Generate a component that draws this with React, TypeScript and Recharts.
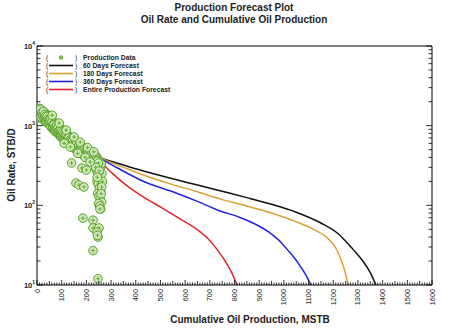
import React from 'react';
import { ComposedChart, Line, Scatter, XAxis, YAxis, Legend } from 'recharts';

// production history (cumulative MSTB, rate STB/D)
const prodCum = [
  0, 3, 5, 8, 10, 12, 15, 17, 20, 22,
  25, 27, 30, 32, 35, 37, 40, 42, 45, 47,
  50, 52, 55, 57, 60, 62, 65, 67, 70, 72,
  75, 77, 80, 82, 85, 87, 90, 92, 95, 97,
  100, 102, 105, 107, 110, 112, 115, 117, 120, 122,
  125, 127, 130, 132, 135, 137, 140, 142, 145, 147,
  150, 152, 155, 157, 160, 162, 165, 167, 170, 172,
  175, 177, 180, 182, 185, 187, 190, 192, 195, 197,
  200, 202, 205, 207, 210, 212, 215, 217, 220, 222,
  225, 227, 230, 232, 235, 237, 240, 242, 245, 247,
  250, 252, 255, 257, 260,
  1, 4, 6, 9, 11, 14, 16, 19, 21, 24,
  26, 29, 31, 34, 36, 39, 41, 44, 46, 49,
  51, 54, 56, 59, 61, 64, 66, 69, 71, 74,
  76, 79, 81, 84, 86, 89, 91, 94, 96, 99,
  101, 104, 106, 109, 111, 114, 116, 119, 121, 124,
  126, 129, 131, 134, 136, 139, 141, 144, 146, 149,
  151, 154, 156, 159, 161, 164, 166, 169, 171, 174,
  176, 179, 181, 184, 186, 189, 191, 194, 196, 199,
  201, 204, 206, 209, 211, 214, 216, 219, 221, 224,
  226, 229, 231, 234, 236, 239, 241, 244, 246, 249,
  240, 245, 250, 255, 243, 248, 253, 258, 246, 251,
  256, 262, 249, 254, 258, 263, 265, 262, 238, 252,
  244, 260,
  140, 182, 200, 158, 170, 190, 186, 227, 227, 251,
  243, 247, 245, 227, 247, 255,
  62, 90, 118, 150, 175, 205, 230, 110, 135, 165,
  195, 215,
];
const prodRate = [
  1480, 1300, 1620, 1420, 1650, 1250, 1500, 1360, 1560, 1230,
  1420, 1180, 1480, 1300, 1120, 1400, 1250, 1080, 1330, 1160,
  1040, 1280, 1110, 960, 1180, 1030, 900, 1110, 980, 850,
  1070, 920, 830, 1040, 900, 780, 960, 830, 730, 910,
  800, 700, 880, 760, 670, 830, 720, 640, 790, 690,
  610, 750, 660, 580, 720, 630, 560, 690, 600, 530,
  650, 580, 510, 620, 560, 490, 600, 530, 470, 570,
  510, 450, 550, 490, 430, 530, 480, 420, 510, 460,
  410, 500, 450, 400, 490, 430, 380, 470, 420, 370,
  450, 400, 360, 430, 380, 340, 410, 360, 390, 340,
  370, 320, 350, 300, 330,
  1560, 1400, 1330, 1520, 1380, 1600, 1280, 1450, 1350, 1300,
  1500, 1250, 1380, 1220, 1320, 1150, 1300, 1200, 1090, 1190,
  1120, 1010, 1200, 1060, 1120, 980, 1040, 1020, 920, 960,
  880, 1000, 900, 840, 960, 860, 800, 880, 790, 850,
  760, 820, 720, 780, 700, 760, 690, 740, 650, 700,
  640, 700, 620, 660, 600, 650, 590, 640, 570, 610,
  540, 590, 560, 530, 590, 540, 500, 550, 500, 480,
  540, 470, 520, 460, 500, 450, 500, 440, 480, 440,
  470, 420, 470, 410, 460, 420, 400, 440, 400, 390,
  420, 380, 400, 350, 400, 370, 330, 360, 310, 340,
  280, 250, 230, 210, 200, 185, 165, 150, 140, 130,
  120, 110, 105, 98, 90, 250, 200, 170, 300, 270,
  225, 140,
  340, 294, 277, 190, 180, 170, 69, 65, 52, 52,
  46, 40, 42, 27, 12, 90,
  1350, 1080, 880, 720, 620, 530, 470, 600, 540, 450,
  400, 350,
];

// forecasts
const fc60Cum = [255, 350, 450, 550, 650, 750, 850, 950, 1050, 1150, 1220, 1280, 1320, 1350, 1373];
const fc60Rate = [392, 320, 260, 215, 180, 150, 125, 103, 82, 60, 44, 28, 20, 14.3, 10];
const fc180Cum = [255, 350, 450, 550, 650, 750, 850, 950, 1050, 1120, 1180, 1215, 1240, 1250, 1260];
const fc180Rate = [392, 300, 228, 182, 148, 118, 98, 80, 62, 50, 38, 27.5, 17.5, 13.8, 10];
const fc360Cum = [255, 330, 437, 550, 650, 741, 820, 875, 944, 990, 1013, 1040, 1065, 1090, 1109];
const fc360Rate = [392, 290, 196, 148, 112, 85, 71, 60, 45, 34, 28, 22.5, 17.5, 13.2, 10];
const fcAllCum = [255, 304, 369, 437, 506, 571, 640, 693, 733, 762, 790, 810];
const fcAllRate = [360, 254, 172, 124, 93, 70, 52, 38, 27, 20, 14, 10];

const legendNames = [
  'Production Data',
  '60 Days Forecast',
  '180 Days Forecast',
  '360 Days Forecast',
  'Entire Production Forecast',
];
const legendColors = ['#7ab648', '#111111', '#d9a032', '#2323d8', '#e3262a'];

const xTicks = Array.from({ length: 161 }, (_, i) => i * 10);
const yTicks = [
  10, 20, 30, 40, 50, 60, 70, 80, 90,
  100, 200, 300, 400, 500, 600, 700, 800, 900,
  1000, 2000, 3000, 4000, 5000, 6000, 7000, 8000, 9000, 10000,
];

const toRows = (cum: number[], rate: number[]) => cum.map((c, i) => ({ cum: c, rate: rate[i] }));
const prodData = toRows(prodCum, prodRate);

const FONT = '"Liberation Sans", Arial, sans-serif';

const xLen = (v: number) => (v % 100 === 0 ? 5 : v % 50 === 0 ? 4 : 2.5);
const isDecade = (v: number) => Math.abs(Math.log10(v) - Math.round(Math.log10(v))) < 1e-6;

const BottomTick = (props: any) => {
  const { x, y, payload } = props;
  const v = payload.value;
  const ly = y + 4;
  return (
    <g>
      <line x1={x} x2={x} y1={y} y2={y - xLen(v)} stroke="#000" strokeWidth={0.8} />
      {v % 100 === 0 && (
        <text
          x={x}
          y={ly}
          transform={`rotate(-90 ${x} ${ly})`}
          textAnchor="end"
          dominantBaseline="central"
          fontSize={7.3}
          fill="#222"
        >
          {v}
        </text>
      )}
    </g>
  );
};

const TopTick = (props: any) => {
  const { x, y, payload } = props;
  return <line x1={x} x2={x} y1={y} y2={y + xLen(payload.value)} stroke="#000" strokeWidth={0.8} />;
};

const LeftTick = (props: any) => {
  const { x, y, payload } = props;
  const v = payload.value;
  const major = isDecade(v);
  return (
    <g>
      <line x1={x} x2={x + (major ? 6 : 3.5)} y1={y} y2={y} stroke="#000" strokeWidth={0.8} />
      {major && (
        <text x={x - 2} y={y + 3} textAnchor="end" fontSize={7.5} fill="#222" fontWeight="bold">
          <tspan>10</tspan>
          <tspan dy={-4} fontSize={5}>{Math.round(Math.log10(v))}</tspan>
        </text>
      )}
    </g>
  );
};

const RightTick = (props: any) => {
  const { x, y, payload } = props;
  const len = isDecade(payload.value) ? 6 : 3.5;
  return <line x1={x} x2={x - len} y1={y} y2={y} stroke="#000" strokeWidth={0.8} />;
};

const ProdMarker = (props: any) => {
  const { cx, cy } = props;
  if (cx == null || cy == null) return null;
  return (
    <g>
      <circle cx={cx} cy={cy} r={4.3} fill="#cfe8b8" stroke="#55a125" strokeWidth={1} />
      <path d={`M${cx - 2},${cy}H${cx + 2}M${cx},${cy - 2}V${cy + 2}`} stroke="#55a125" strokeWidth={0.8} />
    </g>
  );
};

const LegendBox = () => (
  <svg width={150} height={44} style={{ fontFamily: FONT }}>
    {legendNames.map((name, i) => {
      const y = 4.5 + i * 8;
      return (
        <g key={name}>
          <text x={6} y={y + 2.3} fontSize={6.5} fill="#222">(</text>
          {i === 0 ? (
            <circle cx={21} cy={y} r={2.2} fill={legendColors[0]} />
          ) : (
            <line x1={9} x2={33} y1={y} y2={y} stroke={legendColors[i]} strokeWidth={1.6} />
          )}
          <text x={35} y={y + 2.3} fontSize={6.5} fill="#222">)</text>
          <text x={43} y={y + 2.4} fontSize={6.8} fontWeight="bold" fill="#222">{name}</text>
        </g>
      );
    })}
  </svg>
);

const lineSeries = [
  { name: legendNames[1], data: toRows(fc60Cum, fc60Rate), color: legendColors[1] },
  { name: legendNames[2], data: toRows(fc180Cum, fc180Rate), color: legendColors[2] },
  { name: legendNames[3], data: toRows(fc360Cum, fc360Rate), color: legendColors[3] },
  { name: legendNames[4], data: toRows(fcAllCum, fcAllRate), color: legendColors[4] },
];

const titleStyle: React.CSSProperties = {
  position: 'absolute',
  fontFamily: FONT,
  fontWeight: 'bold',
  fontSize: 10,
  lineHeight: '12px',
  color: '#222',
  textAlign: 'center',
  whiteSpace: 'nowrap',
};

export default function App() {
  return (
    <div style={{ position: 'absolute', left: 0, top: 0, width: 451, height: 328, background: '#fff', fontFamily: FONT }}>
      <div style={{ ...titleStyle, left: 94, top: 2, width: 280 }}>
        Production Forecast Plot
        <br />
        Oil Rate and Cumulative Oil Production
      </div>
      <ComposedChart width={451} height={328} margin={{ top: 45, right: 18, bottom: 42, left: 36 }}>
        <XAxis
          xAxisId="bottom"
          dataKey="cum"
          type="number"
          domain={[0, 1600]}
          allowDataOverflow
          ticks={xTicks}
          interval={0}
          height={1}
          tickSize={0}
          tickMargin={0}
          tick={BottomTick}
          axisLine={{ stroke: '#000' }}
        />
        <XAxis
          xAxisId="top"
          orientation="top"
          type="number"
          domain={[0, 1600]}
          allowDataOverflow
          ticks={xTicks}
          interval={0}
          height={1}
          tickSize={0}
          tickMargin={0}
          tick={TopTick}
          axisLine={{ stroke: '#000' }}
        />
        <YAxis
          yAxisId="left"
          dataKey="rate"
          type="number"
          scale="log"
          domain={[10, 10000]}
          allowDataOverflow
          ticks={yTicks}
          interval={0}
          width={1}
          tickSize={0}
          tickMargin={0}
          tick={LeftTick}
          axisLine={{ stroke: '#000' }}
        />
        <YAxis
          yAxisId="right"
          orientation="right"
          type="number"
          scale="log"
          domain={[10, 10000]}
          allowDataOverflow
          ticks={yTicks}
          interval={0}
          width={1}
          tickSize={0}
          tickMargin={0}
          tick={RightTick}
          axisLine={{ stroke: '#000' }}
        />
        <Legend
          layout="horizontal"
          verticalAlign="middle"
          align="center"
          content={<LegendBox />}
          wrapperStyle={{ left: 40, top: 53, width: 150, height: 44 }}
        />
        <Scatter
          name={legendNames[0]}
          data={prodData}
          xAxisId="bottom"
          yAxisId="left"
          fill={legendColors[0]}
          shape={ProdMarker}
          isAnimationActive={false}
        />
        {lineSeries.map((s) => (
          <Line
            key={s.name}
            name={s.name}
            data={s.data}
            dataKey="rate"
            xAxisId="bottom"
            yAxisId="left"
            type="monotone"
            stroke={s.color}
            strokeWidth={1.5}
            dot={false}
            activeDot={false}
            isAnimationActive={false}
          />
        ))}
      </ComposedChart>
      <div
        style={{
          ...titleStyle,
          left: 12 - 60,
          top: 165 - 6,
          width: 120,
          transform: 'rotate(-90deg)',
        }}
      >
        Oil Rate, STB/D
      </div>
      <div style={{ ...titleStyle, left: 250 - 120, top: 314, width: 240 }}>
        Cumulative Oil Production, MSTB
      </div>
    </div>
  );
}
